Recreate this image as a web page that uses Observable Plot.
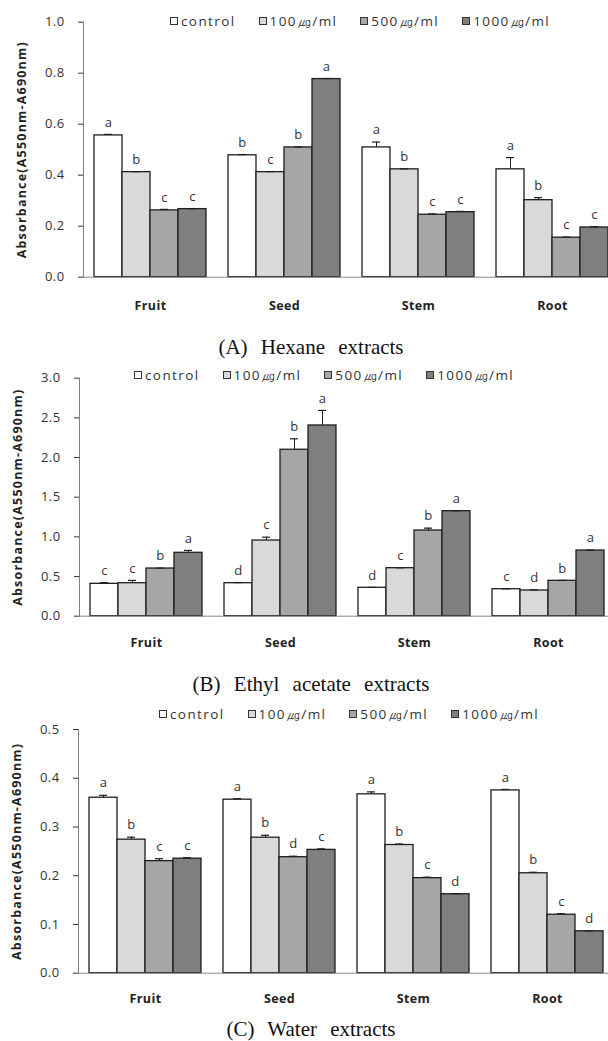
<!DOCTYPE html>
<html><head><meta charset="utf-8">
<script src="https://cdn.jsdelivr.net/npm/d3@7"></script>
<script src="https://cdn.jsdelivr.net/npm/@observablehq/plot@0.6"></script>
<style>
html,body{margin:0;padding:0;background:#fff;}
#fig{position:relative;width:608px;height:1041px;overflow:hidden;font-family:"Open Sans",sans-serif;}
.panel{position:absolute;left:0;}
.legend{position:absolute;display:flex;gap:23px;font-size:13.5px;color:#333;letter-spacing:1.4px;line-height:14px;white-space:nowrap;}
.legend .item{display:flex;align-items:center;}
.legend .sw{width:6px;height:6px;border:1px solid #333;margin-right:3px;}
.caption{position:absolute;left:0;width:622px;text-align:center;font-family:"Liberation Serif","Times New Roman",serif;font-size:21px;word-spacing:8px;color:#111;line-height:20px;}
#fig svg text{letter-spacing:0.4px;}
#fig svg [aria-label="y-axis tick label"]{fill:#333;font-size:13px;}
#fig svg [aria-label="y-axis tick"]{stroke:#888;}
#fig svg [aria-label="y-axis label"]{font-weight:bold;font-size:12.5px;fill:#222;}
#fig svg [aria-label="y-axis label"] text{letter-spacing:1.2px;}
</style>
</head><body>
<div id="fig"></div>
<script>
const categories = ["Fruit", "Seed", "Stem", "Root"];
const series = ["control", "100㎍/ml", "500㎍/ml", "1000㎍/ml"];
const seriesColors = ["#ffffff", "#d9d9d9", "#a6a6a6", "#7f7f7f"];
const yTitle = "Absorbance(A550nm-A690nm)";

// (A) Hexane extracts: rows = categories, columns = series
const hexaneValues = [[0.556, 0.412, 0.262, 0.267], [0.478, 0.412, 0.509, 0.777], [0.509, 0.423, 0.245, 0.255], [0.423, 0.302, 0.155, 0.195]];
const hexaneErrors = [[0.004, 0.002, 0.004, 0.002], [0.003, 0.002, 0.002, 0.002], [0.021, 0.002, 0.003, 0.003], [0.046, 0.010, 0.002, 0.003]];
const hexaneLetters = [["a", "b", "c", "c"], ["b", "c", "b", "a"], ["a", "b", "c", "c"], ["a", "b", "c", "c"]];
const hexaneTicks = [0, 0.2, 0.4, 0.6, 0.8, 1.0];

// (B) Ethyl acetate extracts
const ethylValues = [[0.408, 0.416, 0.601, 0.799], [0.416, 0.954, 2.098, 2.404], [0.358, 0.605, 1.080, 1.324], [0.340, 0.324, 0.446, 0.828]];
const ethylErrors = [[0.015, 0.035, 0.005, 0.030], [0.008, 0.042, 0.138, 0.190], [0.005, 0.005, 0.030, 0.005], [0.005, 0.008, 0.005, 0.005]];
const ethylLetters = [["c", "c", "b", "a"], ["d", "c", "b", "a"], ["d", "c", "b", "a"], ["c", "d", "b", "a"]];
const ethylTicks = [0, 0.5, 1.0, 1.5, 2.0, 2.5, 3.0];

// (C) Water extracts
const waterValues = [[0.360, 0.274, 0.230, 0.235], [0.356, 0.278, 0.238, 0.253], [0.367, 0.263, 0.195, 0.162], [0.375, 0.205, 0.120, 0.086]];
const waterErrors = [[0.005, 0.005, 0.005, 0.002], [0.002, 0.005, 0.002, 0.002], [0.005, 0.002, 0.002, 0.001], [0.002, 0.002, 0.002, 0.001]];
const waterLetters = [["a", "b", "c", "c"], ["a", "b", "d", "c"], ["a", "b", "c", "d"], ["a", "b", "c", "d"]];
const waterTicks = [0, 0.1, 0.2, 0.3, 0.4, 0.5];

const captions = ["(A) Hexane extracts", "(B) Ethyl acetate extracts", "(C) Water extracts"];

const fig = document.getElementById("fig");
const STEP = 134.3;

function makePanel(cfg) {
  const rows = [];
  categories.forEach((c, i) => series.forEach((s, j) => rows.push({
    cat: c, series: s, value: cfg.values[i][j], err: cfg.errors[i][j], letter: cfg.letters[i][j]
  })));
  const top = (d) => d.value + d.err;
  const yDomain = [cfg.ticks[0], cfg.ticks[cfg.ticks.length - 1]];

  const build = (extra) => Plot.plot({
    width: 608,
    height: cfg.height,
    marginTop: cfg.marginTop,
    marginBottom: cfg.marginBottom,
    marginLeft: cfg.marginLeft,
    marginRight: 608 - cfg.marginLeft - 4 * STEP,
    style: {background: "transparent", fontFamily: "'Open Sans', sans-serif", fontSize: "13px", color: "#333"},
    fx: {domain: categories, padding: 0},
    x: {domain: series, paddingInner: 0, paddingOuter: 0.377, axis: null},
    y: {
      domain: yDomain,
      ticks: cfg.ticks, tickFormat: ".1f", tickSize: 5, tickPadding: 14,
      label: yTitle, labelAnchor: "center", labelOffset: 66, labelArrow: "none"
    },
    color: {domain: series, range: seriesColors},
    marks: [
      Plot.barY(rows, {fx: "cat", x: "series", y: "value", fill: "series", stroke: "#1e1e1e", strokeWidth: 1.3}),
      Plot.ruleX(rows, {fx: "cat", x: "series", y1: "value", y2: top, stroke: "#1e1e1e", strokeWidth: 1}),
      Plot.tickY(rows, {fx: "cat", x: "series", y: top, insetLeft: 10, insetRight: 10, stroke: "#1e1e1e", strokeWidth: 1.2}),
      Plot.text(rows, {fx: "cat", x: "series", y: top, text: "letter", dy: -12, fontSize: 13, fill: "#333"}),
      Plot.ruleY([0], {stroke: "#888", strokeWidth: 1}),
      Plot.axisFx({anchor: "bottom", tickSize: 0, tickPadding: cfg.catPad, label: null, fontWeight: "bold", fontSize: 12.5, fill: "#222"}),
      ...extra
    ]
  });
  // first pass: read the x band scale to locate the left edge of the first facet's frame
  const probe = build([]);
  const xs = probe.scale("x");
  const axisDx = Math.min(...xs.range) - (xs.apply(series[0]) + xs.bandwidth / 2);
  const chart = build([
    // vertical y-axis line: left side of the first facet's frame
    Plot.frame({anchor: "left", fx: () => categories[0], stroke: "#808080", strokeWidth: 1}),
    Plot.ruleX([categories[0]], {fx: (d) => d, x: () => series[0], y1: () => yDomain[0], y2: () => yDomain[1],
      dx: axisDx, stroke: "#808080", strokeWidth: 1})
  ]);

  const wrap = document.createElement("div");
  wrap.className = "panel";
  wrap.style.top = cfg.top + "px";
  wrap.appendChild(chart);
  fig.appendChild(wrap);

  const legend = document.createElement("div");
  legend.className = "legend";
  legend.style.left = cfg.legendX + "px";
  legend.style.top = (cfg.legendY - 7) + "px";
  series.forEach((s, j) => {
    const item = document.createElement("div");
    item.className = "item";
    const sw = document.createElement("span");
    sw.className = "sw";
    sw.style.background = seriesColors[j];
    const t = document.createElement("span");
    t.textContent = s;
    item.appendChild(sw); item.appendChild(t);
    legend.appendChild(item);
  });
  fig.appendChild(legend);

  const cap = document.createElement("div");
  cap.className = "caption";
  cap.style.top = (cfg.captionY - 10) + "px";
  cap.textContent = cfg.caption;
  fig.appendChild(cap);
}

makePanel({values: hexaneValues, errors: hexaneErrors, letters: hexaneLetters, ticks: hexaneTicks,
  top: 0, height: 325, marginTop: 21.7, marginBottom: 48.3, marginLeft: 82, catPad: 24,
  legendX: 170, legendY: 21, caption: captions[0], captionY: 347});
makePanel({values: ethylValues, errors: ethylErrors, letters: ethylLetters, ticks: ethylTicks,
  top: 340, height: 320, marginTop: 37.7, marginBottom: 44.3, marginLeft: 78, catPad: 22,
  legendX: 134, legendY: 375, caption: captions[1], captionY: 684});
makePanel({values: waterValues, errors: waterErrors, letters: waterLetters, ticks: waterTicks,
  top: 690, height: 325, marginTop: 39, marginBottom: 42.3, marginLeft: 77, catPad: 21,
  legendX: 159, legendY: 714, caption: captions[2], captionY: 1029});
</script>
</body></html>
